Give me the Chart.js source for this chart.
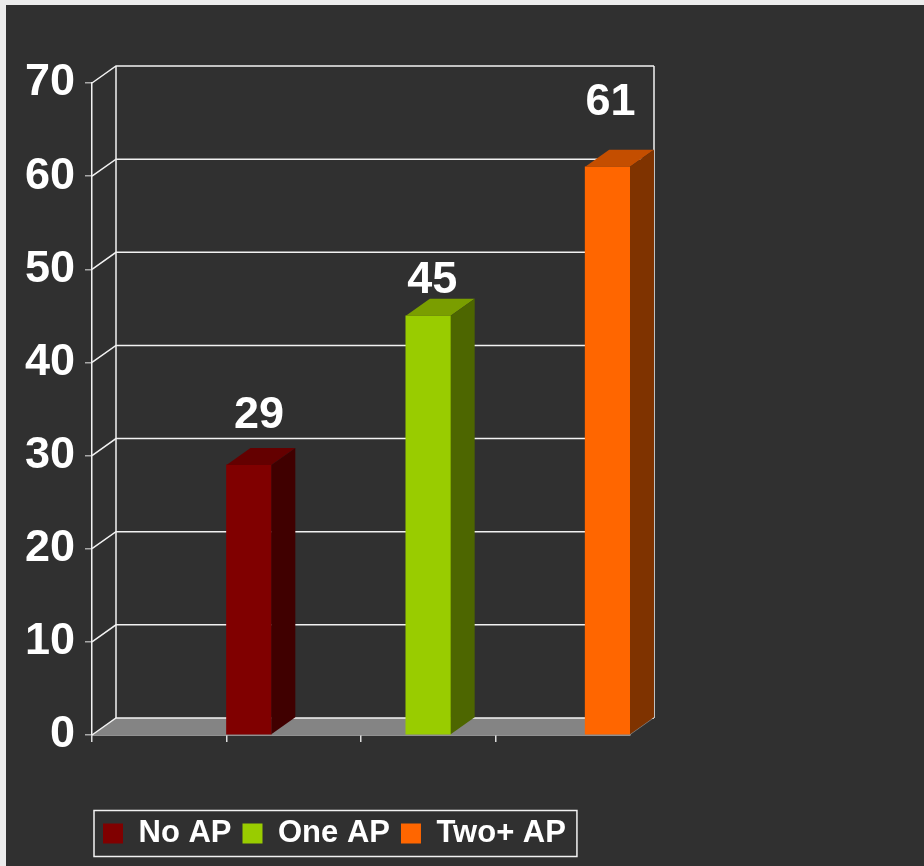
<!DOCTYPE html>
<html>
<head>
<meta charset="utf-8">
<script src="https://cdn.jsdelivr.net/npm/chart.js@4/dist/chart.umd.min.js"></script>
<style>
  html, body { margin: 0; padding: 0; background: #ececec; }
  canvas { display: block; }
</style>
</head>
<body>
<canvas id="chart" width="924" height="866"></canvas>
<script>
// categories on the depth-less x axis (first slot is empty in the original)
const categories = ['', 'No AP', 'One AP', 'Two+ AP'];
const seriesNames = ['No AP', 'One AP', 'Two+ AP'];
const noAP = [null, 29, null, null];
const oneAP = [null, null, 45, null];
const twoPlusAP = [null, null, null, 61];
const yTicks = [0, 10, 20, 30, 40, 50, 60, 70];

const frontColors = ['#800000', '#99cc00', '#ff6600'];
const topColors = ['#640000', '#7a9e00', '#c44e00'];
const sideColors = ['#400000', '#4d6600', '#7f3300'];
// hand-placed value labels in the original, nudged from the bar top
const labelShift = [[-2, -20], [-8, -6], [-9, -35]];

const DX = 24, DY = -17;
const LINE = '#f2f2f2';

const panelBg = {
  id: 'panelBg',
  beforeDraw(chart) {
    const ctx = chart.ctx;
    ctx.save();
    ctx.fillStyle = '#ececec';
    ctx.fillRect(0, 0, chart.width, chart.height);
    ctx.fillStyle = '#303030';
    ctx.fillRect(6, 5, chart.width - 6, chart.height - 5);
    ctx.restore();
  }
};

const walls = {
  id: 'walls',
  beforeDatasetsDraw(chart) {
    const { ctx, chartArea: a, scales: { y } } = chart;
    const y0 = y.getPixelForValue(0);
    ctx.save();
    // floor
    ctx.fillStyle = '#848484';
    ctx.beginPath();
    ctx.moveTo(a.left, y0);
    ctx.lineTo(a.left + DX, y0 + DY);
    ctx.lineTo(a.right + DX, y0 + DY);
    ctx.lineTo(a.right, y0);
    ctx.closePath();
    ctx.fill();

    ctx.strokeStyle = LINE;
    ctx.lineWidth = 1.5;
    yTicks.forEach(v => {
      const py = y.getPixelForValue(v);
      ctx.beginPath();
      ctx.moveTo(a.left, py);
      ctx.lineTo(a.left + DX, py + DY);
      ctx.lineTo(a.right + DX, py + DY);
      ctx.stroke();
    });
    const top = y.getPixelForValue(yTicks[yTicks.length - 1]);
    [a.left + DX, a.right + DX].forEach(px => {
      ctx.beginPath();
      ctx.moveTo(px, top + DY);
      ctx.lineTo(px, y0 + DY);
      ctx.stroke();
    });
    ctx.restore();
  },
  afterDatasetsDraw(chart) {
    const ctx = chart.ctx;
    ctx.save();
    chart.data.datasets.forEach((ds, i) => {
      const meta = chart.getDatasetMeta(i);
      meta.data.forEach((bar, j) => {
        const v = ds.data[j];
        if (v === null || v === undefined) return;
        const { x, y, base, width } = bar.getProps(['x', 'y', 'base', 'width'], true);
        const l = x - width / 2, r = x + width / 2;
        ctx.fillStyle = topColors[i];
        ctx.beginPath();
        ctx.moveTo(l, y);
        ctx.lineTo(l + DX, y + DY);
        ctx.lineTo(r + DX, y + DY);
        ctx.lineTo(r, y);
        ctx.closePath();
        ctx.fill();
        ctx.fillStyle = sideColors[i];
        ctx.beginPath();
        ctx.moveTo(r, y);
        ctx.lineTo(r + DX, y + DY);
        ctx.lineTo(r + DX, base + DY);
        ctx.lineTo(r, base);
        ctx.closePath();
        ctx.fill();

        ctx.fillStyle = '#ffffff';
        ctx.font = 'bold 45px "Liberation Sans", Arial, sans-serif';
        ctx.textAlign = 'center';
        ctx.textBaseline = 'alphabetic';
        ctx.fillText(String(v), x + DX / 2 + labelShift[i][0], y + DY + labelShift[i][1]);
      });
    });
    ctx.restore();
  }
};

const legendBox = {
  id: 'legendBox',
  afterDraw(chart) {
    const boxes = chart.legend && chart.legend.legendHitBoxes;
    if (!boxes || !boxes.length) return;
    const first = boxes[0], last = boxes[boxes.length - 1];
    const cy = first.top + first.height / 2;
    const ctx = chart.ctx;
    ctx.save();
    ctx.strokeStyle = LINE;
    ctx.lineWidth = 1.5;
    ctx.strokeRect(first.left - 9, cy - 23, last.left + last.width + 11 - (first.left - 9), 46);
    ctx.restore();
  }
};

const seriesData = [noAP, oneAP, twoPlusAP];

new Chart(document.getElementById('chart'), {
  type: 'bar',
  data: {
    labels: categories,
    datasets: seriesNames.map((name, i) => ({
      label: name,
      data: seriesData[i],
      backgroundColor: frontColors[i],
      borderWidth: 0,
      categoryPercentage: 1,
      barPercentage: 1
    }))
  },
  options: {
    responsive: false,
    animation: false,
    layout: { padding: { left: 0, top: 83, right: 294, bottom: 7 } },
    plugins: {
      tooltip: { enabled: false },
      legend: {
        position: 'bottom',
        align: 'start',
        fullSize: false,
        labels: {
          color: '#ffffff',
          font: { family: '"Liberation Sans", Arial, sans-serif', size: 31, weight: 'bold' },
          boxWidth: 20,
          boxHeight: 20,
          padding: 11
        }
      }
    },
    scales: {
      x: {
        type: 'category',
        offset: true,
        ticks: { display: false },
        grid: {
          offset: true,
          drawOnChartArea: false,
          tickLength: 7,
          lineWidth: 1.5,
          color: (c) => (c.index === undefined || c.index >= categories.length) ? 'rgba(0,0,0,0)' : '#dddddd'
        },
        border: { color: LINE, width: 1.5 },
        afterFit: (s) => { s.height = 72; }
      },
      y: {
        min: 0,
        max: 70,
        ticks: {
          stepSize: 10,
          color: '#ffffff',
          padding: 10,
          font: { family: '"Liberation Sans", Arial, sans-serif', size: 45, weight: 'bold' }
        },
        grid: { drawOnChartArea: false, tickLength: 7, color: '#a8a8a8', lineWidth: 1.5 },
        border: { color: LINE, width: 1.5 },
        afterFit: (s) => { s.width = 92; }
      }
    }
  },
  plugins: [panelBg, walls, legendBox]
});
</script>
</body>
</html>
